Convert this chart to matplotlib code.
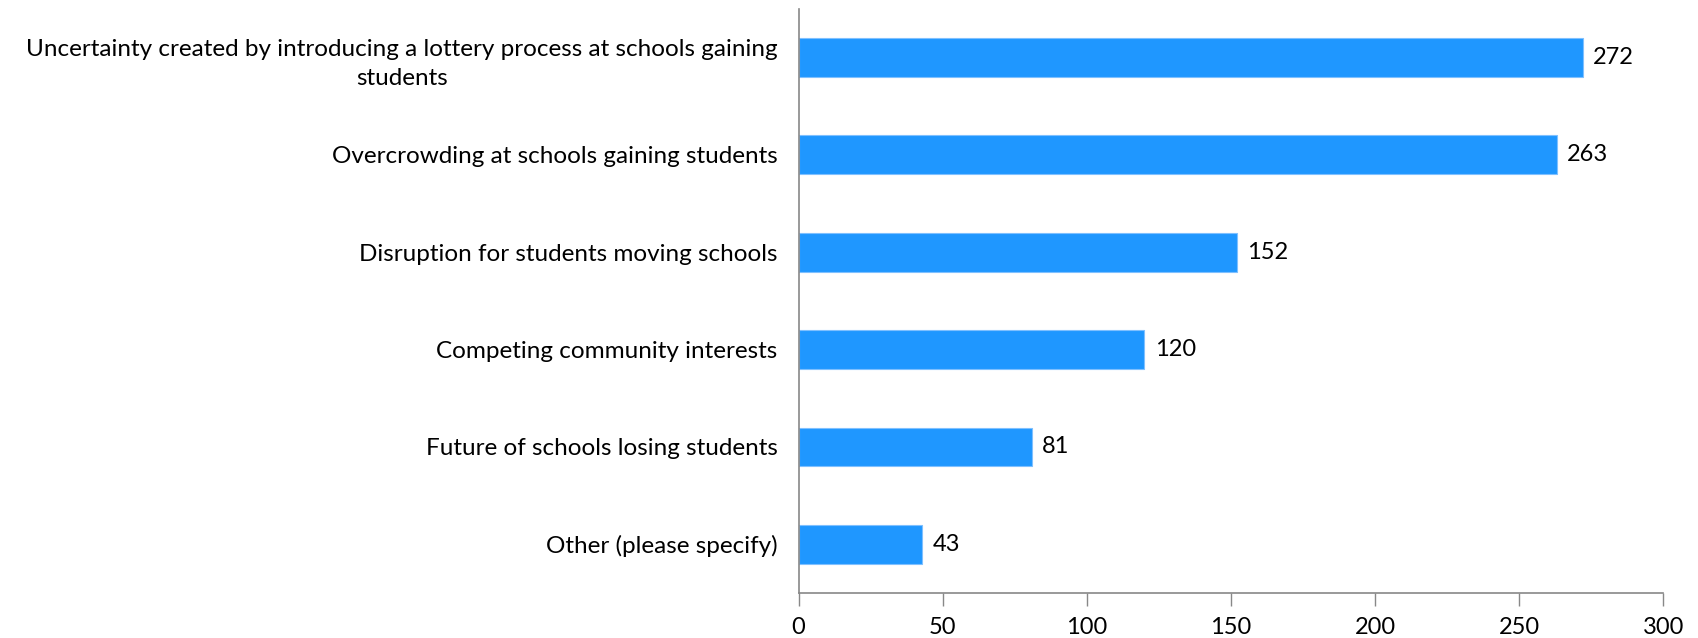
import matplotlib.pyplot as plt
import numpy as np

categories = ['Uncertainty created by introducing a lottery process at schools gaining\nstudents',
              'Overcrowding at schools gaining students',
              'Disruption for students moving schools',
              'Competing community interests',
              'Future of schools losing students',
              'Other (please specify)']
values = [272, 263, 152, 120, 81, 43]
xticks = [0, 50, 100, 150, 200, 250, 300]

plt.rcParams['font.family'] = ['Lato', 'DejaVu Sans']

fig = plt.figure(figsize=(16.99, 6.38), dpi=100)
ax = fig.add_axes([0.470, 0.0705, 0.509, 0.9155])

y = np.arange(len(categories))[::-1]
ax.barh(y, values, height=0.4, color='#1F97FF', edgecolor='#7FC0FF', linewidth=0.8)

for yi, v in zip(y, values):
    ax.text(v + 3.5, yi, str(v), va='center', ha='left', fontsize=17)

ax.set_xlim(0, 300)
ax.set_ylim(-0.5, len(categories) - 0.5)
ax.set_xticks(xticks)
ax.set_yticks(y)
ax.set_yticklabels(categories, fontsize=17.5, multialignment='center', linespacing=1.5)
ax.tick_params(axis='y', length=0, pad=15)
ax.tick_params(axis='x', length=9, width=1, color='#888888', labelsize=17, pad=8)

for side in ['top', 'right']:
    ax.spines[side].set_visible(False)
for side in ['left', 'bottom']:
    ax.spines[side].set_color('#888888')
    ax.spines[side].set_linewidth(1.2)

plt.savefig('out.png', dpi=100)
